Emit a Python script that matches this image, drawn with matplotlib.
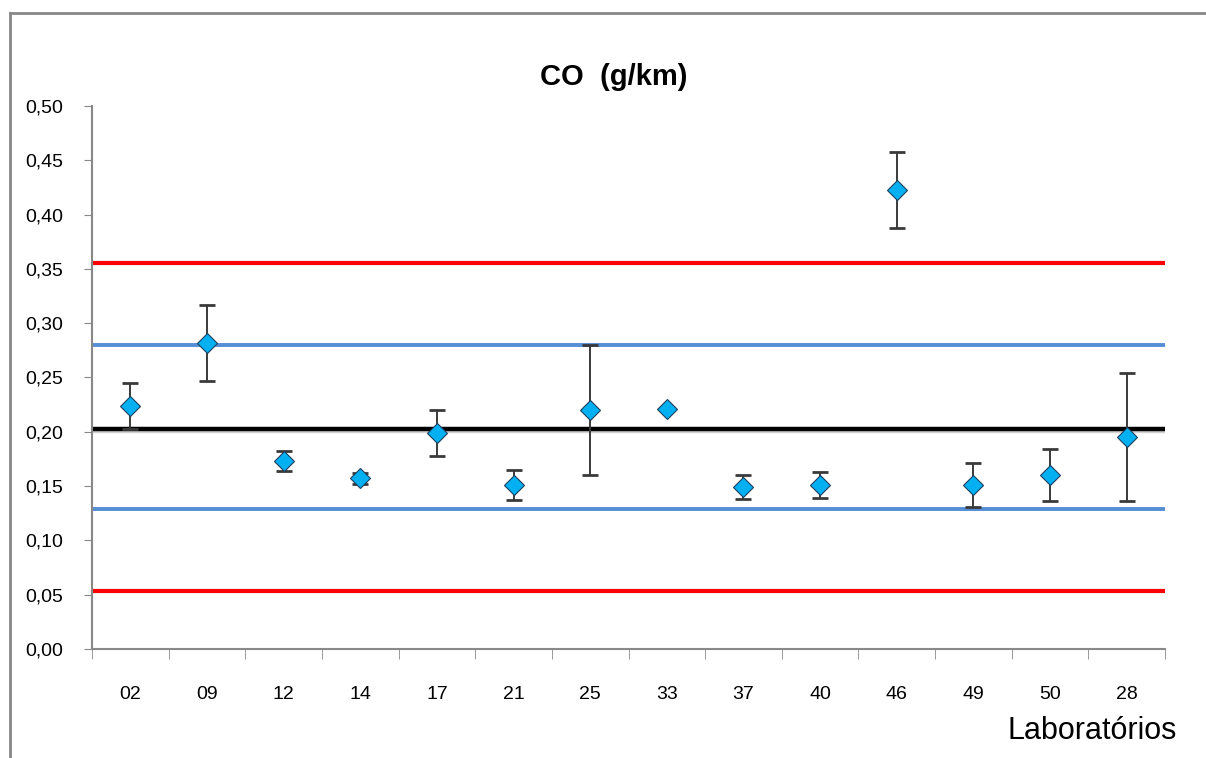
import numpy as np
import matplotlib
matplotlib.use("Agg")
import matplotlib.pyplot as plt
import matplotlib.patheffects as pe
from matplotlib.lines import Line2D
from matplotlib.ticker import FuncFormatter, FixedLocator

plt.rcParams['font.family'] = ['Liberation Sans', 'DejaVu Sans']

# dados
labs = ['02', '09', '12', '14', '17', '21', '25', '33', '37', '40', '46', '49', '50', '28']
co = [0.224, 0.282, 0.173, 0.157, 0.199, 0.151, 0.220, 0.221, 0.149, 0.151, 0.423, 0.151, 0.160, 0.195]
incerteza = [0.021, 0.035, 0.009, 0.005, 0.021, 0.014, 0.060, 0.0, 0.011, 0.012, 0.035, 0.020, 0.024, 0.059]

media = 0.203
lim_azul = [0.280, 0.129]
lim_verm = [0.355, 0.053]

fig = plt.figure(figsize=(12.06, 7.58), dpi=100)
ax = fig.add_axes([0.0763, 0.1438, 0.8897, 0.7164])

x = np.arange(len(labs))

for v in lim_verm:
    ax.axhline(v, color='#ff0000', lw=3, zorder=2)
for v in lim_azul:
    ax.axhline(v, color='#558ed5', lw=2.8, zorder=2)
ax.axhline(media, color='black', lw=3.2, zorder=2,
           path_effects=[pe.SimpleLineShadow(offset=(0, -1.5), shadow_color='gray', alpha=0.35),
                         pe.Normal()])

ax.errorbar(x, co, yerr=incerteza, fmt='none', ecolor='#3a3a3a', elinewidth=1.4,
            capsize=6, capthick=2, zorder=3)
ax.plot(x, co, 'D', color='#00b0f0', markersize=10.5, markeredgecolor='#1f3f5f',
        markeredgewidth=0.8, zorder=4)

ax.set_xlim(-0.5, len(labs) - 0.5)
ax.set_ylim(0, 0.5)
ax.set_yticks(np.arange(0, 0.51, 0.05))
ax.yaxis.set_major_formatter(FuncFormatter(lambda v, p: f'{v:.2f}'.replace('.', ',')))
ax.set_xticks(x)
ax.set_xticklabels(labs)
ax.xaxis.set_minor_locator(FixedLocator(np.arange(-0.5, len(labs), 1.0)))

ax.tick_params(axis='x', which='major', length=0, pad=27, labelsize=14)
ax.tick_params(axis='x', which='minor', length=7, color='#888888', direction='out')
ax.tick_params(axis='y', length=6, color='#888888', pad=15, labelsize=14)

for s in ['top', 'right']:
    ax.spines[s].set_visible(False)
for s in ['left', 'bottom']:
    ax.spines[s].set_color('#888888')
    ax.spines[s].set_linewidth(1.5)

fig.text(0.509, 0.898, 'CO  (g/km)', ha='center', va='center', fontsize=21, fontweight='bold')
fig.text(0.976, 0.035, 'Laboratórios', ha='right', va='center', fontsize=22)

# moldura do gráfico
fig.add_artist(Line2D([0.0083, 0.0083], [0.0, 0.983], color='#888888', lw=2,
                      transform=fig.transFigure))
fig.add_artist(Line2D([0.0083, 1.0], [0.983, 0.983], color='#888888', lw=2,
                      transform=fig.transFigure))

fig.savefig('out.png', dpi=100)
